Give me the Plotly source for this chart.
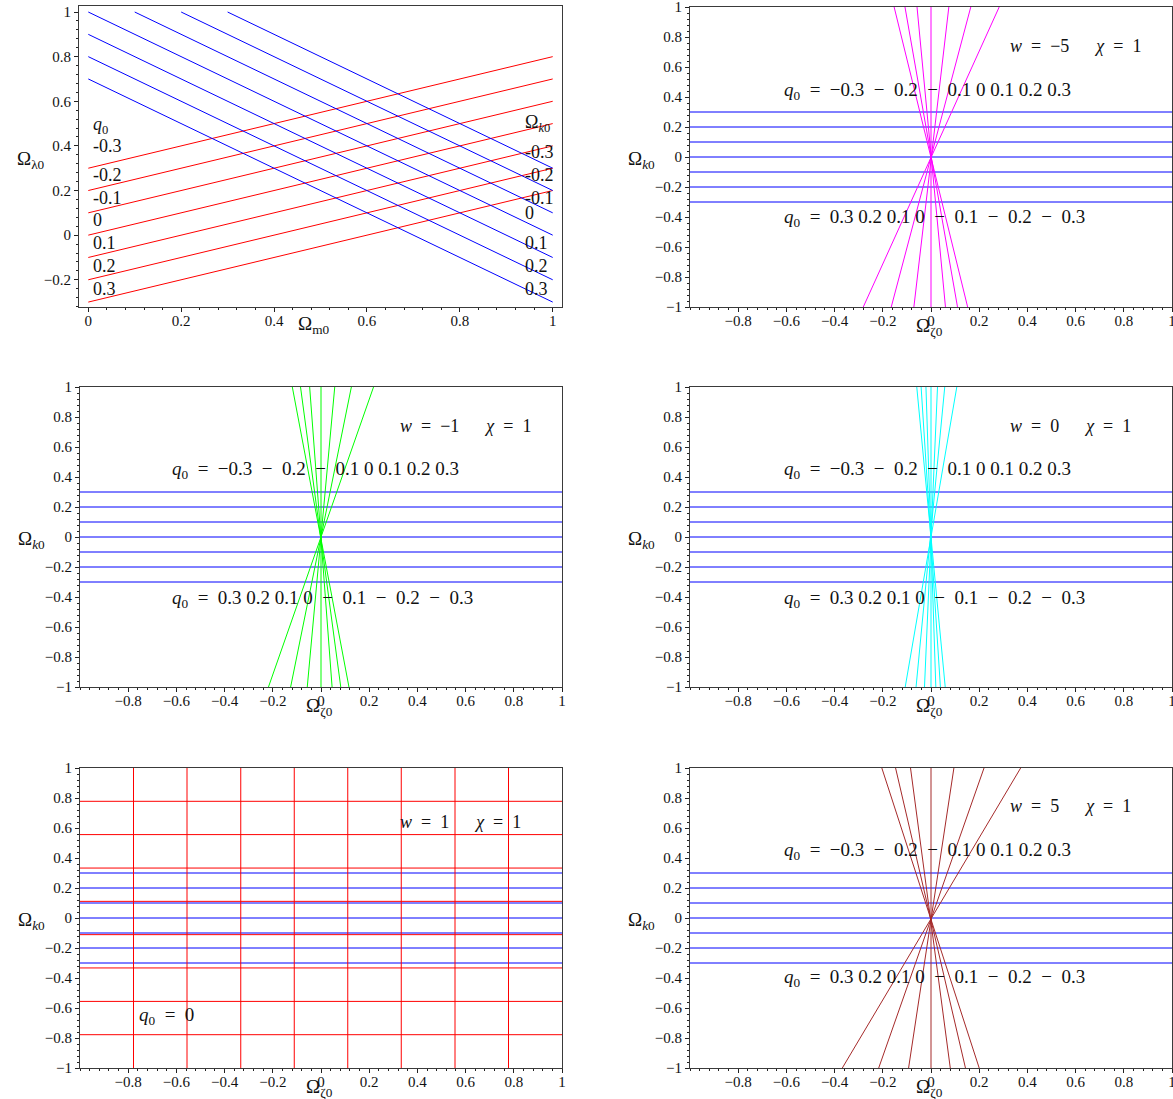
import plotly.graph_objects as go

W, H = 1173, 1099
FONT = "Liberation Serif"

# ---------------- Panel 1 data (Omega_m0 vs Omega_lambda0) ----------------
omega_k_labels = ["-0.3", "-0.2", "-0.1", "0", "0.1", "0.2", "0.3"]
q0_labels = ["-0.3", "-0.2", "-0.1", "0", "0.1", "0.2", "0.3"]
# blue lines: constant Omega_k0 (start / end points)
k_start_m = [0.3, 0.2, 0.1, 0.0, 0.0, 0.0, 0.0]
k_start_l = [1.0, 1.0, 1.0, 1.0, 0.9, 0.8, 0.7]
k_end_m = [1.0, 1.0, 1.0, 1.0, 1.0, 1.0, 1.0]
k_end_l = [0.3, 0.2, 0.1, 0.0, -0.1, -0.2, -0.3]
# red lines: constant q0
q_start_m = [0.0, 0.0, 0.0, 0.0, 0.0, 0.0, 0.0]
q_start_l = [0.3, 0.2, 0.1, 0.0, -0.1, -0.2, -0.3]
q_end_m = [1.0, 1.0, 1.0, 1.0, 1.0, 1.0, 1.0]
q_end_l = [0.8, 0.7, 0.6, 0.5, 0.4, 0.3, 0.2]

# ---------------- Panels 2-6 data (Omega_zeta0 vs Omega_k0) ----------------
k_levels = [0.3, 0.2, 0.1, 0.0, -0.1, -0.2, -0.3]
# q0 lines through the origin: x where each line meets y = 1 and y = -1
top_x_wm5 = [-0.153, -0.108, -0.058, 0.0, 0.074, 0.165, 0.283]
bot_x_wm5 = [0.152, 0.110, 0.060, 0.0, -0.071, -0.165, -0.281]
top_x_wm1 = [-0.119, -0.085, -0.047, 0.0, 0.057, 0.126, 0.218]
bot_x_wm1 = [0.116, 0.082, 0.046, 0.0, -0.057, -0.126, -0.218]
top_x_w0 = [-0.059, -0.041, -0.021, 0.0, 0.027, 0.057, 0.107]
bot_x_w0 = [0.059, 0.039, 0.020, 0.0, -0.027, -0.062, -0.107]
top_x_w5 = [-0.204, -0.147, -0.085, 0.0, 0.095, 0.220, 0.372]
bot_x_w5 = [0.200, 0.143, 0.080, 0.0, -0.093, -0.217, -0.368]
# w = 1 panel: red grid of q0 = 0 curves
grid_w1 = [-0.778, -0.556, -0.333, -0.111, 0.111, 0.333, 0.556, 0.778]

# tick labels
p1_xticks = [0, 0.2, 0.4, 0.6, 0.8, 1]
p1_xtext = ["0", "0.2", "0.4", "0.6", "0.8", "1"]
p1_yticks = [-0.2, 0, 0.2, 0.4, 0.6, 0.8, 1]
p1_ytext = ["\u22120.2", "0", "0.2", "0.4", "0.6", "0.8", "1"]
z_xticks = [-0.8, -0.6, -0.4, -0.2, 0, 0.2, 0.4, 0.6, 0.8, 1]
z_xtext = ["\u22120.8", "\u22120.6", "\u22120.4", "\u22120.2", "0", "0.2", "0.4", "0.6", "0.8", "1"]
z_yticks = [-1, -0.8, -0.6, -0.4, -0.2, 0, 0.2, 0.4, 0.6, 0.8, 1]
z_ytext = ["\u22121", "\u22120.8", "\u22120.6", "\u22120.4", "\u22120.2", "0", "0.2", "0.4", "0.6", "0.8", "1"]

BLUE = "#0000ff"
RED = "#ff0000"
MAGENTA = "#ff00ff"
GREEN = "#00ff00"
CYAN = "#00ffff"
BROWN = "#a52a2a"


def seg_trace(x0, y0, x1, y1, color, xa, ya):
    xs, ys = [], []
    for a, b, c, d in zip(x0, y0, x1, y1):
        xs += [a, c, None]
        ys += [b, d, None]
    return go.Scatter(x=xs, y=ys, mode="lines", line=dict(color=color, width=1),
                      xaxis=xa, yaxis=ya, hoverinfo="skip", showlegend=False,
                      cliponaxis=True)


fig = go.Figure()

# Panel 1
fig.add_trace(seg_trace(q_start_m, q_start_l, q_end_m, q_end_l, RED, "x", "y"))
fig.add_trace(seg_trace(k_start_m, k_start_l, k_end_m, k_end_l, BLUE, "x", "y"))

zeta_panels = [
    ("x2", "y2", top_x_wm5, bot_x_wm5, MAGENTA),
    ("x3", "y3", top_x_wm1, bot_x_wm1, GREEN),
    ("x4", "y4", top_x_w0, bot_x_w0, CYAN),
    ("x6", "y6", top_x_w5, bot_x_w5, BROWN),
]
for xa, ya, tx, bx, col in zeta_panels:
    n = len(k_levels)
    fig.add_trace(seg_trace([-1] * n, k_levels, [1] * n, k_levels, BLUE, xa, ya))
    fig.add_trace(seg_trace(tx, [1] * len(tx), bx, [-1] * len(bx), col, xa, ya))

# Panel 5 (w = 1)
n = len(k_levels)
fig.add_trace(seg_trace([-1] * n, k_levels, [1] * n, k_levels, BLUE, "x5", "y5"))
g = len(grid_w1)
fig.add_trace(seg_trace(grid_w1, [-1] * g, grid_w1, [1] * g, RED, "x5", "y5"))
fig.add_trace(seg_trace([-1] * g, grid_w1, [1] * g, grid_w1, RED, "x5", "y5"))

# ---------------- layout ----------------
def px_x(a, b):
    return [a / W, b / W]


def px_y(top, bottom):
    return [1 - bottom / H, 1 - top / H]


axis_common = dict(
    showline=True, linecolor="#3a3a3a", linewidth=1, mirror=True,
    ticks="outside", ticklen=4, tickcolor="#222", tickwidth=1,
    showgrid=False, zeroline=False, tickmode="array", automargin=False,
    ticklabeloverflow="allow",
    tickfont=dict(family=FONT, size=15, color="#111"),
    minor=dict(ticks="outside", ticklen=2, tickcolor="#222", tickmode="linear",
               tick0=0, dtick=0.04, showgrid=False),
    fixedrange=True,
)

LEFT = (80, 562)
RIGHT = (690, 1172)
ROWS = [(7, 307), (387, 687), (768, 1068)]

layout = dict(
    width=W, height=H, margin=dict(l=0, r=0, t=0, b=0, autoexpand=False),
    paper_bgcolor="white", plot_bgcolor="white", showlegend=False,
    font=dict(family=FONT, color="#111"),
)

layout["xaxis"] = dict(axis_common, domain=px_x(79, 562), range=[-0.02, 1.02],
                       tickvals=p1_xticks, ticktext=p1_xtext, anchor="y",
                       ticklabelstandoff=-4)
layout["yaxis"] = dict(axis_common, domain=px_y(6, 307), range=[-0.322, 1.027],
                       tickvals=p1_yticks, ticktext=p1_ytext, anchor="x")

panel_pos = {2: (RIGHT, ROWS[0]), 3: (LEFT, ROWS[1]), 4: (RIGHT, ROWS[1]),
             5: (LEFT, ROWS[2]), 6: (RIGHT, ROWS[2])}
for i, (cx, ry) in panel_pos.items():
    layout[f"xaxis{i}"] = dict(axis_common, domain=px_x(*cx), range=[-1, 1],
                               tickvals=z_xticks, ticktext=z_xtext, anchor=f"y{i}",
                               ticklabelstandoff=-4)
    layout[f"yaxis{i}"] = dict(axis_common, domain=px_y(*ry), range=[-1, 1],
                               tickvals=z_yticks, ticktext=z_ytext, anchor=f"x{i}")

fig.update_layout(**layout)

ann = []


def paper_text(txt, px, py, size=19, xanchor="center"):
    ann.append(dict(text=txt, x=px / W, y=1 - py / H, xref="paper", yref="paper",
                    showarrow=False, xanchor=xanchor, yanchor="middle",
                    font=dict(family=FONT, size=size, color="#111")))


def data_text(txt, x, y, xa, ya, size=19, xanchor="left"):
    ann.append(dict(text=txt, x=x, y=y, xref=xa, yref=ya, showarrow=False,
                    xanchor=xanchor, yanchor="middle",
                    font=dict(family=FONT, size=size, color="#111")))


# axis titles
paper_text("\u03a9<sub>\u03bb0</sub>", 31, 160)
paper_text("\u03a9<sub>m0</sub>", 313, 325)
for (cx, (top, bot)) in [(RIGHT, ROWS[0]), (LEFT, ROWS[1]), (RIGHT, ROWS[1]),
                          (LEFT, ROWS[2]), (RIGHT, ROWS[2])]:
    mid = (top + bot) / 2
    paper_text("\u03a9<sub><i>k</i>0</sub>", cx[0] - 49, mid + 3)
    zero_px = (cx[0] + cx[1]) / 2
    paper_text("\u03a9<sub>\u03b60</sub>", zero_px - 2, bot + 20)

# panel 1 labels
left_y = [0.40, 0.27, 0.167, 0.068, -0.036, -0.14, -0.243]
right_y = [0.374, 0.27, 0.167, 0.10, -0.036, -0.14, -0.243]
data_text("<i>q</i><sub>0</sub>", 0.006, 0.49, "x", "y", size=18)
for t, yy in zip(q0_labels, left_y):
    data_text(t, 0.006, yy, "x", "y", size=18)
data_text("\u03a9<sub><i>k</i>0</sub>", 0.935, 0.50, "x", "y", size=18)
for t, yy in zip(omega_k_labels, right_y):
    data_text(t, 0.935, yy, "x", "y", size=18)

SP = "\u2002"
up_txt = ("<i>q</i><sub>0</sub>" + SP + "=" + SP + "\u22120.3" + SP + "\u2212" + SP + "0.2"
          + SP + "\u2212" + SP + "0.1 0 0.1 0.2 0.3")
dn_txt = ("<i>q</i><sub>0</sub>" + SP + "=" + SP + "0.3 0.2 0.1 0" + SP + "\u2212" + SP + "0.1"
          + SP + "\u2212" + SP + "0.2" + SP + "\u2212" + SP + "0.3")


def wtxt(w):
    return ("<i>w</i>" + SP + "=" + SP + w + "\u2003\u2002<i>\u03c7</i>" + SP + "=" + SP + "1")


data_text(wtxt("\u22125"), 0.32, 0.742, "x2", "y2", size=18)
data_text(up_txt, -0.618, 0.437, "x2", "y2")
data_text(dn_txt, -0.618, -0.404, "x2", "y2")

data_text(wtxt("\u22121"), 0.32, 0.742, "x3", "y3", size=18)
data_text(up_txt, -0.627, 0.45, "x3", "y3")
data_text(dn_txt, -0.627, -0.41, "x3", "y3")

data_text(wtxt("0"), 0.32, 0.742, "x4", "y4", size=18)
data_text(up_txt, -0.618, 0.45, "x4", "y4")
data_text(dn_txt, -0.618, -0.41, "x4", "y4")

data_text(wtxt("1"), 0.32, 0.64, "x5", "y5", size=18)
data_text("<i>q</i><sub>0</sub>" + SP + "=" + SP + "0", -0.763, -0.652, "x5", "y5")

data_text(wtxt("5"), 0.32, 0.75, "x6", "y6", size=18)
data_text(up_txt, -0.618, 0.447, "x6", "y6")
data_text(dn_txt, -0.618, -0.40, "x6", "y6")

fig.update_layout(annotations=ann)
fig.write_html("out.html", config={"displayModeBar": False},
               post_script="document.body.style.margin='0px';")
